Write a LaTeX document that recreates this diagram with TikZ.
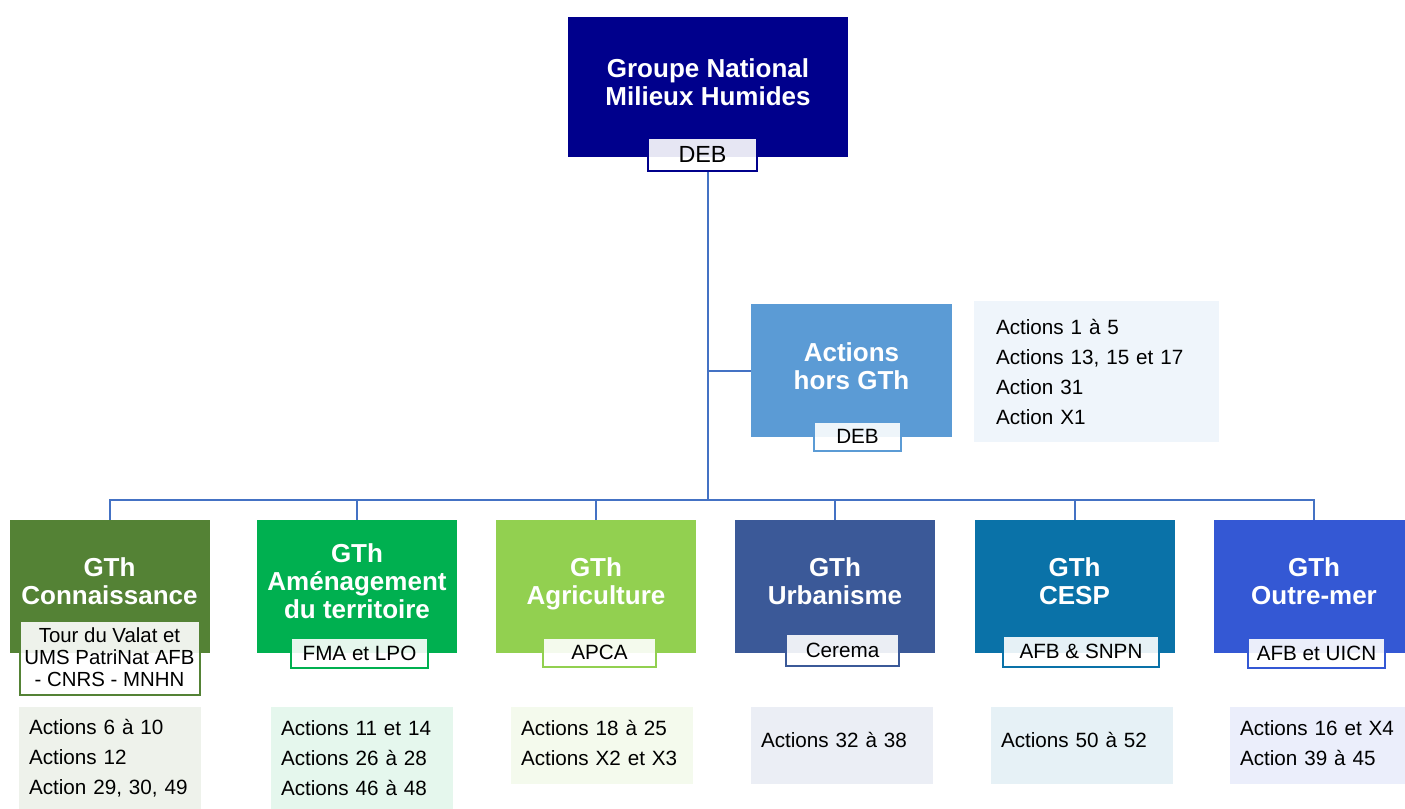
\documentclass[tikz,border=0pt]{standalone}
\usepackage{fontspec}
\setmainfont{Liberation Sans}
\usetikzlibrary{calc}
\definecolor{navy}{RGB}{0,0,140}
\definecolor{horsgth}{RGB}{91,155,213}
\definecolor{trait}{RGB}{68,114,196}
\definecolor{gconn}{RGB}{84,130,53}
\definecolor{gamen}{RGB}{0,176,80}
\definecolor{gagri}{RGB}{146,208,80}
\definecolor{gurba}{RGB}{59,89,152}
\definecolor{gcesp}{RGB}{10,114,168}
\definecolor{goutre}{RGB}{52,88,212}

\begin{document}
\begin{tikzpicture}[x=0.75pt,y=-0.75pt]
\tikzset{
  titre/.style={rectangle, inner sep=0pt, text=white, align=center, text depth=7.5pt, font=\bfseries\fontsize{19.5}{21}\selectfont},
  gth/.style={titre, fill=#1, minimum width=150pt, minimum height=99.75pt},
  pilote/.style={rectangle, draw=#1, line width=1.5pt, fill=white, fill opacity=0.9, text opacity=1, inner sep=0pt, align=center, font=\fontsize{15.5}{16.5}\selectfont},
  liste/.style={rectangle, fill=#1!10, inner xsep=7.5pt, inner ysep=0pt, text width=121.5pt, minimum height=57.75pt, align=left, font=\fontsize{15.5}{22.5}\selectfont},
  lien/.style={draw=trait, line width=1.5pt},
}
\useasboundingbox (0,0) rectangle (1405,808);

% groupe national
\node[titre, fill=navy, minimum width=210pt, minimum height=105pt] (gnmh) at (708,87) {Groupe National\\Milieux Humides};
\node[pilote=navy, minimum width=81.75pt, minimum height=24.75pt, font=\fontsize{17.5}{18}\selectfont] (debg) at (702.5,154.5) {DEB};

% actions hors GTh
\node[titre, fill=horsgth, minimum width=150.75pt, minimum height=99.75pt, text depth=6pt] (hors) at (851.5,370.5) {Actions\\hors GTh};
\node[pilote=horsgth, minimum width=65.25pt, minimum height=21.75pt] (debh) at (857.5,436.5) {DEB};
\node[liste=horsgth, text width=150.75pt, inner xsep=16.5pt, minimum height=105.75pt] (lhors) at (1096.5,371.5) {Actions 1 à 5\\Actions 13, 15 et 17\\Action 31\\Action X1};

% groupes thematiques
\node[gth=gconn] (conn) at (109.5,586.5) {GTh\\Connaissance};
\node[gth=gamen] (amen) at (357,586.5) {GTh\\Aménagement\\du territoire};
\node[gth=gagri] (agri) at (596,586.5) {GTh\\Agriculture};
\node[gth=gurba] (urba) at (835,586.5) {GTh\\Urbanisme};
\node[gth=gcesp] (cesp) at (1074.5,586.5) {GTh\\CESP};
\node[gth=goutre] (outre) at (1314,586.5) {GTh\\Outre-mer};

\node[pilote=gconn, minimum width=135pt, minimum height=55.5pt, font=\fontsize{15.3}{16.5}\selectfont] (pconn) at (109.5,657.5) {Tour du Valat et\\UMS PatriNat AFB\\- CNRS - MNHN};
\node[pilote=gamen, minimum width=102.75pt, minimum height=22.5pt] (pamen) at (359.5,653) {FMA et LPO};
\node[pilote=gagri, minimum width=84.75pt, minimum height=21.75pt] (pagri) at (599.5,652.5) {APCA};
\node[pilote=gurba, minimum width=84.75pt, minimum height=24pt] (purba) at (842.5,650) {Cerema};
\node[pilote=gcesp, minimum width=117pt, minimum height=23.25pt] (pcesp) at (1081,651.5) {AFB \& SNPN};
\node[pilote=goutre, minimum width=102.75pt, minimum height=22.5pt] (poutre) at (1316.5,653) {AFB et UICN};

\node[liste=gconn, minimum height=77.25pt] (lconn) at (110,758.5) {Actions 6 à 10\\Actions 12\\Action 29, 30, 49};
\node[liste=gamen, minimum height=77.25pt] (lamen) at (362,758.5) {Actions 11 et 14\\Actions 26 à 28\\Actions 46 à 48};
\node[liste=gagri, text depth=26pt] (lagri) at (602,745.5) {Actions 18 à 25\\Actions X2 et X3};
\node[liste=gurba, text depth=9pt] (lurba) at (842,745.5) {Actions 32 à 38};
\node[liste=gcesp, text depth=9pt] (lcesp) at (1082,745.5) {Actions 50 à 52};
\node[liste=goutre, text depth=26pt] (loutre) at (1321,745) {Actions 16 et X4\\Action 39 à 45};

% liens
\coordinate (bus) at (708,500);
\draw[lien] (gnmh.south |- debg.south) -- (bus);
\draw[lien] (hors.west) -- (hors.west -| bus);
\draw[lien] (conn.north) |- (bus) -| (outre.north);
\foreach \g in {amen,agri,urba,cesp}
  \draw[lien] (\g.north) -- (\g.north |- bus);
\end{tikzpicture}
\end{document}
